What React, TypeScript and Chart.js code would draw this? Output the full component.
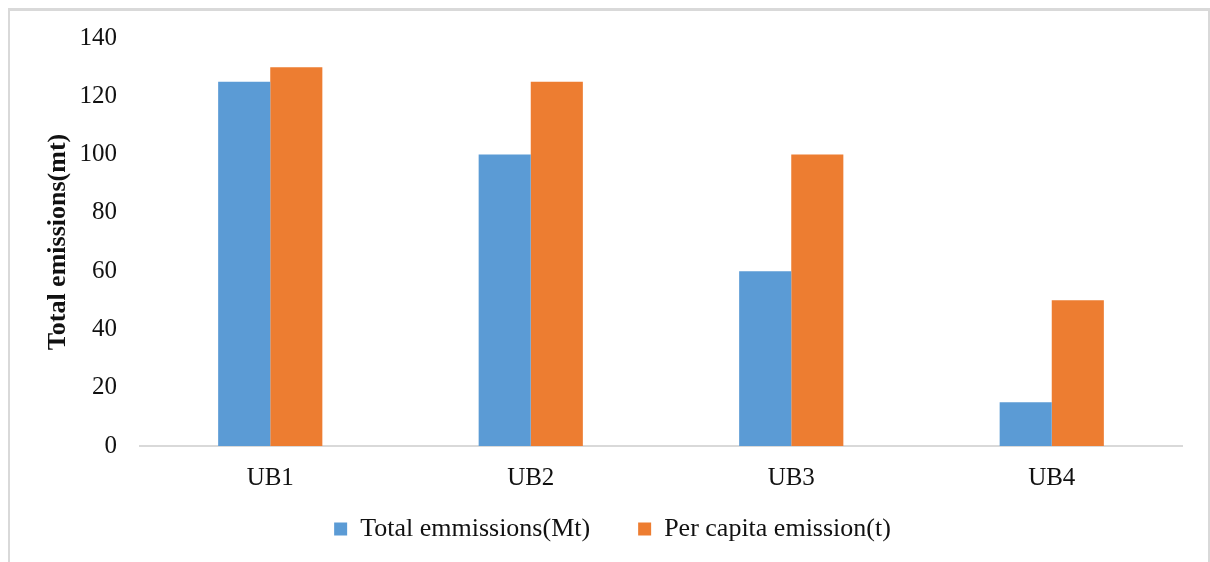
import React, { useEffect, useRef } from "react";
import { Chart, registerables } from "chart.js";

Chart.register(...registerables);

const categories = ["UB1", "UB2", "UB3", "UB4"];
const totalEmissions = [125, 100, 60, 15];
const perCapitaEmission = [130, 125, 100, 50];
const yTicks = [0, 20, 40, 60, 80, 100, 120, 140];

const FONT = "'Liberation Serif', 'Times New Roman', serif";

// Pulls the bottom legend up closer to the category labels.
const legendLift = {
  id: "legendLift",
  afterLayout(chart: any) {
    const lg = chart.legend;
    if (lg) {
      lg.top -= 42;
      lg.bottom -= 42;
    }
  },
};

export default function App() {
  const canvasRef = useRef<HTMLCanvasElement | null>(null);

  useEffect(() => {
    const canvas = canvasRef.current;
    if (!canvas) return;
    const chart = new Chart(canvas, {
      type: "bar",
      data: {
        labels: categories,
        datasets: [
          {
            label: "Total emmissions(Mt)",
            data: totalEmissions,
            backgroundColor: "#5B9BD5",
            categoryPercentage: 0.4,
            barPercentage: 1.0,
          },
          {
            label: "Per capita emission(t)",
            data: perCapitaEmission,
            backgroundColor: "#ED7D31",
            categoryPercentage: 0.4,
            barPercentage: 1.0,
          },
        ],
      },
      plugins: [legendLift],
      options: {
        animation: false,
        responsive: false,
        maintainAspectRatio: false,
        layout: { padding: { left: 43, right: 28, top: 37, bottom: -32 } },
        plugins: {
          tooltip: { enabled: false },
          legend: {
            position: "bottom",
            labels: {
              color: "#111",
              font: { family: FONT, size: 26 },
              boxWidth: 13,
              boxHeight: 13,
              padding: 48,
            },
          },
        },
        scales: {
          x: {
            grid: { display: false, drawTicks: false },
            border: { display: true, color: "#d9d9d9", width: 2 },
            ticks: {
              color: "#111",
              font: { family: FONT, size: 25 },
              padding: 17,
            },
          },
          y: {
            min: 0,
            max: 140,
            afterBuildTicks: (axis: any) => {
              axis.ticks = yTicks.map((v) => ({ value: v }));
            },
            afterFit: (scale: any) => {
              scale.width = 97;
            },
            grid: { display: false, drawTicks: false },
            border: { display: false },
            ticks: {
              color: "#111",
              font: { family: FONT, size: 25 },
              padding: 23,
            },
            title: {
              display: true,
              text: "Total emissions(mt)",
              color: "#111",
              font: { family: FONT, size: 26, weight: "bold" },
              padding: { top: 0, bottom: 6 },
            },
          },
        },
      },
    });
    return () => chart.destroy();
  }, []);

  return (
    <div style={{ position: "absolute", left: 0, top: 0, width: 1210, height: 562, overflow: "hidden", background: "#fff" }}>
      <div
        style={{
          position: "absolute",
          left: 8,
          top: 8,
          width: 1202,
          height: 560,
          boxSizing: "border-box",
          borderTop: "3px solid #d9d9d9",
          borderLeft: "2px solid #d9d9d9",
          borderRight: "2px solid #d9d9d9",
        }}
      />
      <canvas ref={canvasRef} width={1210} height={562} style={{ position: "absolute", left: 0, top: 0 }} />
    </div>
  );
}
